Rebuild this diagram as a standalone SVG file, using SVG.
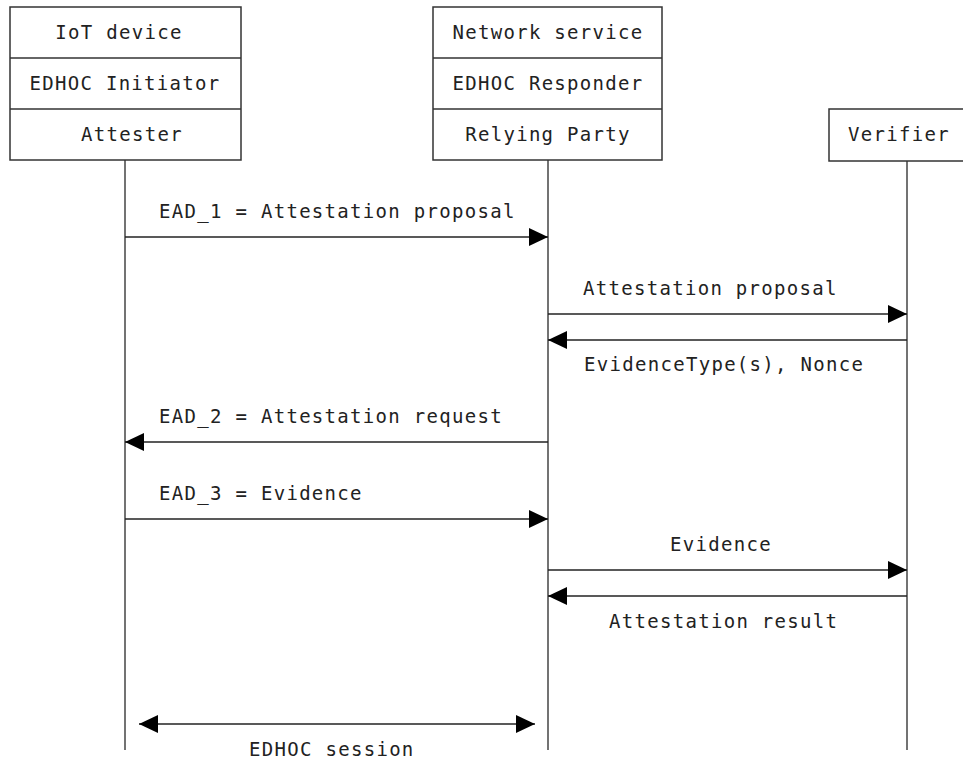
<svg xmlns="http://www.w3.org/2000/svg" width="963" height="762" viewBox="0 0 963 762">
<style>
text{font-family:"DejaVu Sans Mono","Liberation Mono",monospace;font-size:19px;fill:#222;letter-spacing:1.3px}
.box{fill:#fff;stroke:#333;stroke-width:1.5}
.life{stroke:#444;stroke-width:1.5;fill:none}
.msg{stroke:#222;stroke-width:1.5;fill:none}
</style>
<defs>
<marker id="ah" viewBox="0 0 19 18" refX="19" refY="9" markerWidth="19" markerHeight="18" markerUnits="userSpaceOnUse" orient="auto-start-reverse">
<path d="M0,0 L19,9 L0,18 Z" fill="#000"/>
</marker>
</defs>
<g id="lifelines">
<line class="life" x1="125" y1="160" x2="125" y2="750"/>
<line class="life" x1="548" y1="160" x2="548" y2="750"/>
<line class="life" x1="907" y1="161" x2="907" y2="750"/>
</g>
<g id="iot">
<rect class="box" x="10" y="7" width="231" height="153"/>
<line class="box" x1="10" y1="58" x2="241" y2="58"/>
<line class="box" x1="10" y1="109" x2="241" y2="109"/>
<text x="119" y="39" text-anchor="middle">IoT device</text>
<text x="125" y="90" text-anchor="middle">EDHOC Initiator</text>
<text x="132" y="141" text-anchor="middle">Attester</text>
</g>
<g id="network">
<rect class="box" x="433" y="7" width="229" height="153"/>
<line class="box" x1="433" y1="58" x2="662" y2="58"/>
<line class="box" x1="433" y1="109" x2="662" y2="109"/>
<text x="548" y="39" text-anchor="middle">Network service</text>
<text x="548" y="90" text-anchor="middle">EDHOC Responder</text>
<text x="548" y="141" text-anchor="middle">Relying Party</text>
</g>
<g id="verifier">
<rect class="box" x="829" y="109" width="140" height="52"/>
<text x="899" y="141" text-anchor="middle">Verifier</text>
</g>
<g id="connectors">
<line class="msg" x1="125" y1="237" x2="548" y2="237" marker-end="url(#ah)"/>
<line class="msg" x1="548" y1="314" x2="907" y2="314" marker-end="url(#ah)"/>
<line class="msg" x1="907" y1="340" x2="548" y2="340" marker-end="url(#ah)"/>
<line class="msg" x1="548" y1="442" x2="125" y2="442" marker-end="url(#ah)"/>
<line class="msg" x1="125" y1="519" x2="548" y2="519" marker-end="url(#ah)"/>
<line class="msg" x1="548" y1="570" x2="907" y2="570" marker-end="url(#ah)"/>
<line class="msg" x1="907" y1="596" x2="548" y2="596" marker-end="url(#ah)"/>
<line class="msg" x1="139" y1="724" x2="535" y2="724" marker-start="url(#ah)" marker-end="url(#ah)"/>
</g>
<g id="labels">
<text x="159" y="218">EAD_1 = Attestation proposal</text>
<text x="583" y="295">Attestation proposal</text>
<text x="584" y="371">EvidenceType(s), Nonce</text>
<text x="159" y="423">EAD_2 = Attestation request</text>
<text x="159" y="500">EAD_3 = Evidence</text>
<text x="721" y="551" text-anchor="middle">Evidence</text>
<text x="609" y="628">Attestation result</text>
<text x="249" y="756">EDHOC session</text>
</g>
</svg>
